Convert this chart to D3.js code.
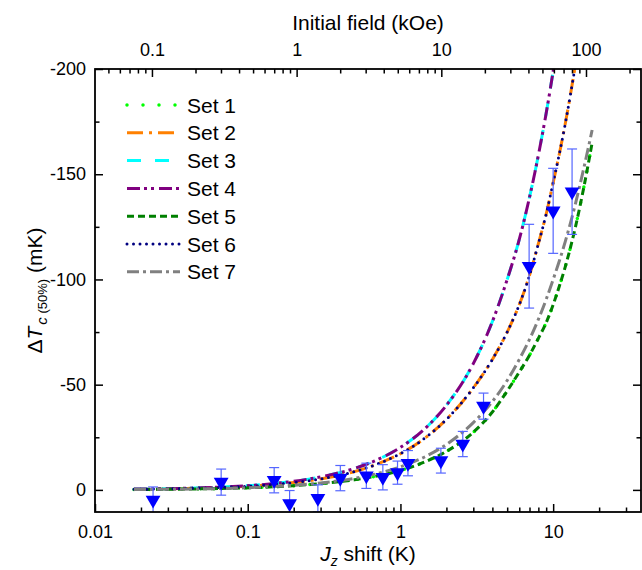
<!DOCTYPE html>
<html>
<head>
<meta charset="utf-8">
<script src="https://cdn.jsdelivr.net/npm/d3@7"></script>
<style>
body{margin:0;background:#fff}
svg{display:block;font-family:"Liberation Sans",Arial,sans-serif}
</style>
</head>
<body>
<svg id="chart"></svg>
<script>
// J_z shift grid (K) used by the model curves
const jShift = [0.018,0.03,0.05,0.08,0.12,0.2,0.3,0.5,0.7,1,1.5,2,3,4,5,6,7,8,9,10,11,12,14,16,18];
// Delta Tc(50%) in mK (null = curve left the plot)
const set1 = [-0.2,-0.3,-0.5,-0.8,-1.2,-2,-3,-4.8,-6.6,-9.2,-13.8,-18.3,-27.4,-37,-47,-56,-64,-72,-79.5,-88,-97,-106,-125,-145,-165];
const set2 = [-0.3,-0.5,-0.9,-1.4,-2.1,-3.5,-5.2,-8.7,-12.2,-17.2,-25.5,-33.5,-48.5,-62,-75,-88,-102,-117,-131,-146,-160,-174,-202,null,null];
const set3 = [-0.4,-0.6,-1,-1.6,-2.4,-4.1,-6.2,-10.2,-14.2,-20.2,-30.2,-40.2,-60,-80,-100,-119,-139,-159,-179,-199,-219,null,null,null,null];
const set4 = [-0.4,-0.6,-1,-1.6,-2.4,-4.1,-6.2,-10.2,-14.2,-20.2,-30.2,-40.2,-60,-80,-100,-119,-139,-159,-179,-199,-219,null,null,null,null];
const set5 = [-0.2,-0.3,-0.5,-0.8,-1.2,-2,-3,-4.8,-6.6,-9.2,-13.8,-18.3,-27.4,-37,-47,-56,-64,-72,-79.5,-88,-97,-106,-125,-145,-165];
const set6 = [-0.3,-0.5,-0.9,-1.4,-2.1,-3.5,-5.2,-8.7,-12.2,-17.2,-25.5,-33.5,-48.5,-62,-75,-88,-102,-117,-131,-146,-160,-174,-202,null,null];
const set7 = [-0.2,-0.3,-0.5,-0.8,-1.3,-2.2,-3.3,-5.5,-7.7,-11,-16.3,-21.6,-32,-42,-52,-62,-71.5,-81,-90.5,-100,-109,-118,-136,-154,-171];
const setNames = ['Set 1','Set 2','Set 3','Set 4','Set 5','Set 6','Set 7'];

// measured points with error bars
const pointJ = [0.024,0.067,0.149,0.188,0.288,0.404,0.598,0.767,0.957,1.12,1.84,2.56,3.5,6.96,10.0,13.3];
const pointDT = [4.8,-3.7,-4.6,6.5,4.0,-5.6,-6.7,-6.0,-8.2,-12.7,-13.9,-21.8,-39.8,-106.3,-132.6,-141.7];
const pointErr = [6.2,6.2,6.0,6.2,6.4,6.0,6.0,6.0,5.5,6.0,5.9,6.0,6.2,19.9,20.2,20.3];

// tick labels
const bottomTicks = [0.01,0.1,1,10];
const topTicks = [0.1,1,10,100];
const yTicks = [-200,-150,-100,-50,0];

const W = 642, H = 570;
const pLeft = 95, pRight = 641, pTop = 69, pBottom = 512;

const svg = d3.select('#chart').attr('width',W).attr('height',H);

const x = d3.scaleLog().domain([0.01,37.6]).range([pLeft,pRight]);
const xTop = d3.scaleLog().domain([0.0404,240]).range([pLeft,pRight]);
const y = d3.scaleLinear().domain([10.5,-200]).range([pBottom,pTop]);

// line styles
const styles = [
  {color:'#00ff00', dash:'0 16', cap:'round', w:3.5},
  {color:'#ff8000', dash:'16 6 3 6', cap:'butt', w:3},
  {color:'#00ffff', dash:'14 14', cap:'butt', w:3},
  {color:'#800080', dash:'13 4 3 4 3 5', cap:'butt', w:3},
  {color:'#008000', dash:'7 4', cap:'butt', w:3},
  {color:'#000080', dash:'0 6.5', cap:'round', w:3},
  {color:'#808080', dash:'12 4 3 4', cap:'butt', w:3}
];
const series = [set1,set2,set3,set4,set5,set6,set7];

svg.append('clipPath').attr('id','clip')
  .append('rect').attr('x',pLeft).attr('y',pTop).attr('width',pRight-pLeft).attr('height',pBottom-pTop);

const plot = svg.append('g').attr('clip-path','url(#clip)');

const line = d3.line()
  .defined(d => d[1] != null)
  .x(d => x(d[0]))
  .y(d => y(d[1]))
  .curve(d3.curveMonotoneX);

series.forEach((vals,i) => {
  plot.append('path')
    .datum(jShift.map((j,k) => [j,vals[k]]))
    .attr('d',line)
    .attr('fill','none')
    .attr('stroke',styles[i].color)
    .attr('stroke-width',styles[i].w)
    .attr('stroke-dasharray',styles[i].dash)
    .attr('stroke-linecap',styles[i].cap);
});

// error bars
const pts = pointJ.map((j,i) => ({j:j, v:pointDT[i], e:pointErr[i]}));
const eb = plot.append('g').attr('stroke','#5566ff').attr('stroke-width',1.2);
pts.forEach(p => {
  const px = x(p.j);
  eb.append('line').attr('x1',px).attr('x2',px).attr('y1',y(p.v-p.e)).attr('y2',y(p.v+p.e));
  eb.append('line').attr('x1',px-5).attr('x2',px+5).attr('y1',y(p.v-p.e)).attr('y2',y(p.v-p.e));
  eb.append('line').attr('x1',px-5).attr('x2',px+5).attr('y1',y(p.v+p.e)).attr('y2',y(p.v+p.e));
});

// down triangles
plot.selectAll('.pt')
  .data(pts)
  .join('path')
  .attr('class','pt')
  .attr('d',d3.symbol(d3.symbolTriangle,95))
  .attr('transform',d => `translate(${x(d.j)},${y(d.v)}) rotate(180)`)
  .attr('fill','#0000ff');

// axes
function styleAxis(g){
  g.select('.domain').remove();
  g.selectAll('line').attr('stroke','#000').attr('stroke-width',1.5);
  g.selectAll('text').attr('font-size',18).attr('fill','#000');
}
const fmt = d => String(d);

svg.append('g').attr('transform',`translate(0,${pBottom})`)
  .call(d3.axisBottom(x).tickValues(x.ticks().filter(t => !bottomTicks.includes(t))).tickFormat('').tickSize(-4.5))
  .call(styleAxis);
svg.append('g').attr('transform',`translate(0,${pBottom})`)
  .call(d3.axisBottom(x).tickValues(bottomTicks).tickFormat(fmt).tickSize(-8).tickPadding(13))
  .call(styleAxis);

svg.append('g').attr('transform',`translate(0,${pTop})`)
  .call(d3.axisTop(xTop).tickValues(xTop.ticks().filter(t => !topTicks.includes(t))).tickFormat('').tickSize(-4.5))
  .call(styleAxis);
svg.append('g').attr('transform',`translate(0,${pTop})`)
  .call(d3.axisTop(xTop).tickValues(topTicks).tickFormat(fmt).tickSize(-8).tickPadding(13))
  .call(styleAxis);

const yMinor = d3.range(-175,0,50);
svg.append('g').attr('transform',`translate(${pLeft},0)`)
  .call(d3.axisLeft(y).tickValues(yTicks).tickFormat(fmt).tickSize(-8).tickPadding(9))
  .call(styleAxis);
svg.append('g').attr('transform',`translate(${pLeft},0)`)
  .call(d3.axisLeft(y).tickValues(yMinor).tickFormat('').tickSize(-4.5))
  .call(styleAxis);
svg.append('g').attr('transform',`translate(${pRight},0)`)
  .call(d3.axisRight(y).tickValues(yTicks).tickFormat('').tickSize(-8))
  .call(styleAxis);
svg.append('g').attr('transform',`translate(${pRight},0)`)
  .call(d3.axisRight(y).tickValues(yMinor).tickFormat('').tickSize(-4.5))
  .call(styleAxis);

// frame
svg.append('rect')
  .attr('x',pLeft).attr('y',pTop).attr('width',pRight-pLeft).attr('height',pBottom-pTop)
  .attr('fill','none').attr('stroke','#000').attr('stroke-width',1.8);

// titles
svg.append('text')
  .attr('x',(pLeft+pRight)/2).attr('y',30)
  .attr('text-anchor','middle').attr('font-size',21)
  .text('Initial field (kOe)');

const xl = svg.append('text')
  .attr('x',(pLeft+pRight)/2).attr('y',561)
  .attr('text-anchor','middle').attr('font-size',21);
xl.append('tspan').attr('font-style','italic').text('J');
xl.append('tspan').attr('font-style','italic').attr('font-size',14).attr('dy',5).text('z');
xl.append('tspan').attr('dy',-5).text(' shift (K)');

const yl = svg.append('text')
  .attr('transform',`translate(42,${(pTop+pBottom)/2}) rotate(-90)`)
  .attr('text-anchor','middle').attr('font-size',21);
yl.append('tspan').text('Δ');
yl.append('tspan').attr('font-style','italic').text('T');
yl.append('tspan').attr('font-style','italic').attr('font-size',15).attr('dy',5).attr('dx',2).text('c');
yl.append('tspan').attr('font-size',13).text(' (50%)');
yl.append('tspan').attr('dy',-5).text(' (mK)');

// legend
const lg = svg.append('g');
setNames.forEach((name,i) => {
  const ly = 105 + i*27.8;
  lg.append('line')
    .attr('x1',127).attr('x2',180).attr('y1',ly).attr('y2',ly)
    .attr('stroke',styles[i].color)
    .attr('stroke-width',styles[i].w)
    .attr('stroke-dasharray',styles[i].dash)
    .attr('stroke-linecap',styles[i].cap);
  lg.append('text')
    .attr('x',187).attr('y',ly+7.5)
    .attr('font-size',21)
    .text(name);
});
</script>
</body>
</html>
